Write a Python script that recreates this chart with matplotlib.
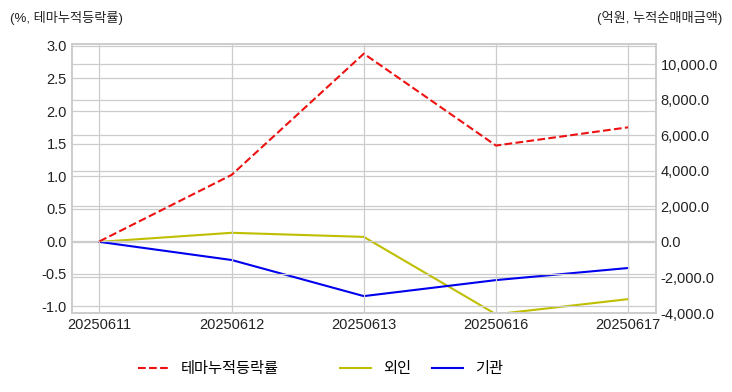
import matplotlib
matplotlib.use('Agg')
import matplotlib.pyplot as plt

plt.rcParams['font.family'] = ['Liberation Sans', 'Noto Sans CJK KR', 'DejaVu Sans']
plt.rcParams['axes.unicode_minus'] = False

dates = ['20250611', '20250612', '20250613', '20250616', '20250617']
theme_rate = [0.0, 1.02, 2.88, 1.47, 1.75]       # % 테마누적등락률
foreign = [0.0, 510.0, 280.0, -4070.0, -3220.0]   # 억원 외인
institution = [0.0, -1020.0, -3050.0, -2150.0, -1470.0]  # 억원 기관

fig = plt.figure(figsize=(7.32, 3.92), dpi=100)
ax1 = fig.add_axes([0.098, 0.2015, 0.798, 0.6865])
ax2 = ax1.twinx()

x = list(range(len(dates)))
l1, = ax1.plot(x, theme_rate, color='#ee1111', linestyle='--', linewidth=1.5, label='테마누적등락률')
l2, = ax2.plot(x, foreign, color='#bfbf00', linewidth=1.5, label='외인')
l3, = ax2.plot(x, institution, color='#0000ee', linewidth=1.5, label='기관')

ax1.set_xlim(-0.21, 4.21)
ax1.set_ylim(-1.1, 3.03)
ax2.set_ylim(-4000, 11130)
ax1.set_xticks(x)
ax1.set_xticklabels(dates)
ax1.set_yticks([-1.0, -0.5, 0.0, 0.5, 1.0, 1.5, 2.0, 2.5, 3.0])
ax1.set_yticklabels([f'{v:.1f}' for v in ax1.get_yticks()])
ticks2 = [-4000, -2000, 0, 2000, 4000, 6000, 8000, 10000]
ax2.set_yticks(ticks2)
ax2.set_yticklabels([f'{v:,.1f}' for v in ticks2])

for ax in (ax1, ax2):
    ax.tick_params(length=0, labelsize=10.5, colors='#222222', pad=3.5)
    for s in ax.spines.values():
        s.set_color('#cccccc')
        s.set_linewidth(1.2)
ax1.grid(True, color='#cccccc', linewidth=0.9)
ax2.grid(True, axis='y', color='#cccccc', linewidth=0.9)
ax1.set_zorder(ax2.get_zorder() + 1)
ax1.patch.set_visible(False)

fig.text(0.014, 0.955, '(%, 테마누적등락률)', fontsize=9.5, color='#222222', ha='left', va='center')
fig.text(0.986, 0.955, '(억원, 누적순매매금액)', fontsize=9.5, color='#222222', ha='right', va='center')

fig.legend(handles=[l1], loc='center', bbox_to_anchor=(0.285, 0.058), frameon=False, fontsize=11,
           handlelength=2.0)
fig.legend(handles=[l2, l3], loc='center', bbox_to_anchor=(0.576, 0.058), ncol=2, frameon=False,
           fontsize=11, handlelength=2.0, columnspacing=1.4)

fig.savefig('out.png', dpi=100)
